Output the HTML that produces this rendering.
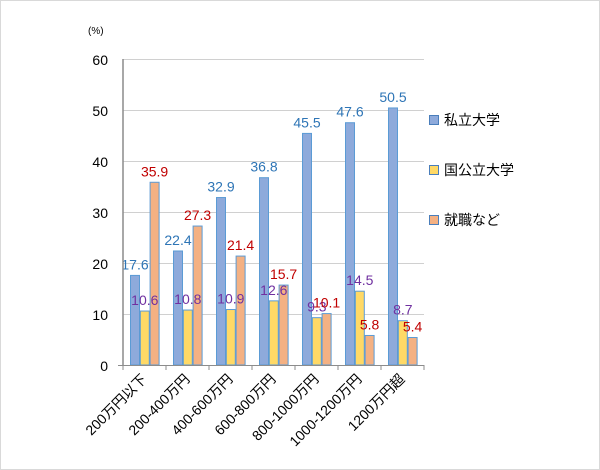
<!DOCTYPE html>
<html><head><meta charset="utf-8"><style>
html,body{margin:0;padding:0;background:#fff}
svg{display:block}
text{font-family:"Liberation Sans","Noto Sans CJK JP",sans-serif}
</style></head><body>
<svg width="600" height="470" xmlns="http://www.w3.org/2000/svg">
<rect x="0.5" y="0.5" width="599" height="469" fill="#fff" stroke="#d9d9d9"/>
<text x="88" y="34" font-size="10" fill="#000">(%)</text>
<g stroke="#d0d0d0" stroke-width="1">
<line x1="123" x2="424" y1="59.5" y2="59.5"/>
<line x1="123" x2="424" y1="110.5" y2="110.5"/>
<line x1="123" x2="424" y1="161.5" y2="161.5"/>
<line x1="123" x2="424" y1="212.5" y2="212.5"/>
<line x1="123" x2="424" y1="263.5" y2="263.5"/>
<line x1="123" x2="424" y1="314.5" y2="314.5"/>
</g>
<g font-size="14" fill="#000" text-anchor="end">
<text x="108" y="65">60</text><text x="108" y="116">50</text><text x="108" y="167">40</text>
<text x="108" y="218">30</text><text x="108" y="269">20</text><text x="108" y="320">10</text><text x="108" y="371">0</text>
</g>
<g id="bars"></g>
<line x1="123" x2="123" y1="59" y2="366" stroke="#8c8c8c" stroke-width="1.5"/>
<line x1="118" x2="424" y1="365.5" y2="365.5" stroke="#8c8c8c" stroke-width="1"/>
<g stroke="#8c8c8c">
<line x1="166" x2="166" y1="365" y2="370"/><line x1="209" x2="209" y1="365" y2="370"/>
<line x1="252" x2="252" y1="365" y2="370"/><line x1="295" x2="295" y1="365" y2="370"/>
<line x1="338" x2="338" y1="365" y2="370"/><line x1="381" x2="381" y1="365" y2="370"/>
<line x1="424" x2="424" y1="365" y2="370"/><line x1="123" x2="123" y1="365" y2="370"/>
</g>
<g font-size="14" fill="#000" id="xl"></g>
<g font-size="14">
<rect x="429.5" y="115.5" width="9" height="9" fill="#8eaadb" stroke="#4a7ebb"/>
<text x="444" y="125">私立大学</text>
<rect x="429.5" y="165.5" width="9" height="9" fill="#ffd966" stroke="#4a7ebb"/>
<text x="444" y="175">国公立大学</text>
<rect x="429.5" y="215.5" width="9" height="9" fill="#f4b183" stroke="#4a7ebb"/>
<text x="444" y="225">就職など</text>
</g>
<script>
var d=[[17.6,10.6,35.9],[22.4,10.8,27.3],[32.9,10.9,21.4],[36.8,12.6,15.7],[45.5,9.3,10.1],[47.6,14.5,5.8],[50.5,8.7,5.4]];
var names=["200万円以下","200-400万円","400-600万円","600-800万円","800-1000万円","1000-1200万円","1200万円超"];
var fills=["#8eaadb","#ffd966","#f4b183"],cols=["#2e75b6","#7030a0","#c00000"];
var ns="http://www.w3.org/2000/svg",g=document.getElementById("bars"),xl=document.getElementById("xl");
function el(t,a,p,txt){var e=document.createElementNS(ns,t);for(var k in a)e.setAttribute(k,a[k]);if(txt)e.textContent=txt;p.appendChild(e);return e;}
var labels=[];
d.forEach(function(r,i){
 var x0=123+i*43+7;
 r.forEach(function(v,j){
  var x=x0+j*9.8,h=v*5.09,y=365-h;
  el("rect",{x:x+0.5,y:y,width:9,height:h,fill:fills[j],stroke:"#5b9bd5","stroke-width":1},g);
  labels.push([x+5,y-6,v.toFixed(1),cols[j]]);
 });
 var cx=123+i*43+21.5;
 el("text",{x:0,y:0,"text-anchor":"end",transform:"translate("+(cx+3)+",380) rotate(-45)"},xl,names[i]);
});
labels.forEach(function(l){el("text",{x:l[0],y:l[1],"text-anchor":"middle","font-size":"14",fill:l[3]},g,l[2]);});
</script>
</svg>
</body></html>
